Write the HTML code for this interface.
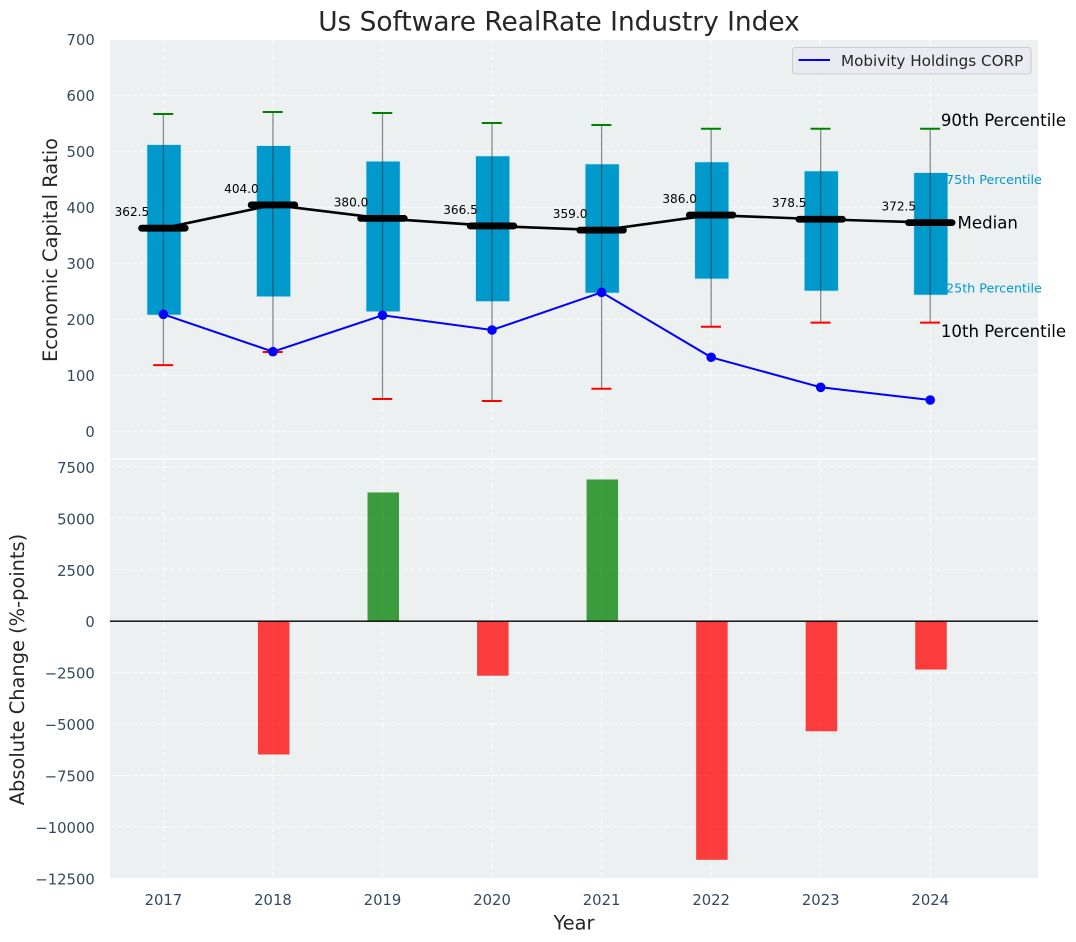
<!DOCTYPE html>
<html lang="en">
<head>
<meta charset="utf-8">
<title>Us Software RealRate Industry Index</title>
<style>
html,body{margin:0;padding:0;background:#fff;}
svg{display:block;font-family:"DejaVu Sans","Liberation Sans",sans-serif;}
</style>
</head>
<body>
<svg id="chart" xmlns="http://www.w3.org/2000/svg" width="1076" height="942" viewBox="0 0 1076 942">
  <rect x="0" y="0" width="1076" height="942" fill="#ffffff"/>
  <text x="559" y="30.5" text-anchor="middle" font-size="26.4" fill="#262626">Us Software RealRate Industry Index</text>
  <rect x="110" y="40" width="928" height="418.3" fill="#ecf0f1"/>
  <rect x="110" y="459.7" width="928" height="418.3" fill="#ecf0f1"/>
  <g id="grid"></g>
  <g id="boxes"></g>
  <g id="medians"></g>
  <g id="company"></g>
  <g id="annotations"></g>
  <g id="bars"></g>
  <line x1="110" x2="1038" y1="621.2" y2="621.2" stroke="#000000" stroke-width="1.3"/>
  <g id="ticks"></g>
  <text x="574" y="929.5" text-anchor="middle" font-size="19.4" fill="#262626">Year</text>
  <text transform="translate(57,250) rotate(-90)" text-anchor="middle" font-size="19.4" fill="#262626">Economic Capital Ratio</text>
  <text transform="translate(24,669.5) rotate(-90)" text-anchor="middle" font-size="19.4" fill="#262626">Absolute Change (%-points)</text>
  <g>
    <rect x="792.5" y="47.5" width="238.5" height="26.5" rx="3" fill="#eaeaf2" stroke="#cccccc" stroke-width="1"/>
    <line x1="798.5" x2="830" y1="60" y2="60" stroke="#0000ff" stroke-width="2"/>
    <text x="841" y="66" font-size="15.2" fill="#262626">Mobivity Holdings CORP</text>
  </g>
</svg>
<script>
const years = [2017, 2018, 2019, 2020, 2021, 2022, 2023, 2024];
const p90 = [566.4, 570, 568.2, 550.4, 546.8, 540.2, 540.2, 540.2];
const p75 = [511.6, 509.8, 482, 491.4, 477.1, 480.7, 464.6, 461.6];
const medianValues = [362.5, 404.0, 380.0, 366.5, 359.0, 386.0, 378.5, 372.5];
const p25 = [207.5, 240.2, 213.4, 231.6, 246.8, 272, 250.4, 243.2];
const p10 = [118, 141.4, 57.5, 53.9, 75.9, 186.6, 193.8, 193.8];
const companyValues = [208.7, 142, 207, 180.7, 248, 132, 78.4, 55.7];
const changeValues = [0, -6480, 6260, -2650, 6890, -11600, -5350, -2350];
const topTicks = [0, 100, 200, 300, 400, 500, 600, 700];
const bottomTicks = [7500, 5000, 2500, 0, -2500, -5000, -7500, -10000, -12500];

const SVGNS = 'http://www.w3.org/2000/svg';
function xScale(year) { return 163.4 + (year - 2017) * 109.55; }
function yTop(v) { return 431.2 - v * 0.56; }
function yBottom(v) { return 621.2 - v * 0.02057; }
function make(tag, parent, props, text) {
  const el = document.createElementNS(SVGNS, tag);
  for (const k in props) el.setAttribute(k, props[k]);
  if (text !== undefined) el.textContent = text;
  document.getElementById(parent).appendChild(el);
  return el;
}
function gridProps(x1, x2, y1, y2) {
  return { x1: x1, x2: x2, y1: y1, y2: y2, stroke: '#ffffff', 'stroke-width': 1, 'stroke-dasharray': '5 2.5', 'stroke-opacity': 0.85 };
}

years.forEach(function (yr) {
  const x = xScale(yr);
  const a = make('line', 'grid', gridProps(x, x, 40, 458.3));
  
  
  const b = make('line', 'grid', gridProps(x, x, 459.7, 878));
  
  
  const t = make('text', 'ticks', { x: x, y: 905, 'text-anchor': 'middle', 'font-size': 14.8, fill: '#34495e' }, String(yr));
  
  
});
topTicks.forEach(function (v) {
  const y = yTop(v);
  if (v < 700) {
    const g = make('line', 'grid', gridProps(110, 1038, y, y));
    
    
  }
  const t = make('text', 'ticks', { x: 94.8, y: y + 6, 'text-anchor': 'end', 'font-size': 14.8, fill: '#34495e' }, String(v));
  
  
});
bottomTicks.forEach(function (v) {
  const y = yBottom(v);
  if (v > -12500) {
    const g = make('line', 'grid', gridProps(110, 1038, y, y));
    
    
  }
  const label = v < 0 ? '\u2212' + Math.abs(v) : String(v);
  const t = make('text', 'ticks', { x: 94.8, y: y + 6, 'text-anchor': 'end', 'font-size': 14.8, fill: '#34495e' }, label);
  
  
});

years.forEach(function (yr, i) {
  const x = xScale(yr);
  const box = make('rect', 'boxes', { x: x - 16.4, y: yTop(p75[i]), width: 34, height: yTop(p25[i]) - yTop(p75[i]), fill: '#0099cc', stroke: '#bfe6f2', 'stroke-width': 0.6 });
  
  
  const w = make('line', 'boxes', { x1: x, x2: x, y1: yTop(p90[i]), y2: yTop(p10[i]), stroke: '#333333', 'stroke-opacity': 0.55, 'stroke-width': 1.3 });
  
  
  const hi = make('line', 'boxes', { x1: x - 10.2, x2: x + 9.8, y1: yTop(p90[i]), y2: yTop(p90[i]), stroke: '#008000', 'stroke-width': 2 });
  
  
  const lo = make('line', 'boxes', { x1: x - 10.2, x2: x + 9.8, y1: yTop(p10[i]), y2: yTop(p10[i]), stroke: '#ff0000', 'stroke-width': 2 });
  
  
});

const medianPath = make('polyline', 'medians', {
  points: years.map(function (yr, i) { return xScale(yr) + ',' + yTop(medianValues[i]); }).join(' '),
  fill: 'none', stroke: '#000000', 'stroke-width': 2.6
});


years.forEach(function (yr, i) {
  const x = xScale(yr), y = yTop(medianValues[i]);
  const m = make('line', 'medians', { x1: x - 21.8, x2: x + 21.8, y1: y, y2: y, stroke: '#000000', 'stroke-width': 6.8, 'stroke-linecap': 'round' });
  
  
  const t = make('text', 'medians', { x: x - 31.5, y: y - 12, 'text-anchor': 'middle', 'font-size': 12.1, fill: '#000000' }, medianValues[i].toFixed(1));
  
  
});

const companyPath = make('polyline', 'company', {
  points: years.map(function (yr, i) { return xScale(yr) + ',' + yTop(companyValues[i]); }).join(' '),
  fill: 'none', stroke: '#0000ff', 'stroke-width': 2
});


years.forEach(function (yr, i) {
  const c = make('circle', 'company', { cx: xScale(yr), cy: yTop(companyValues[i]), r: 4.8, fill: '#0000ff' });
  
  
});

const last = years.length - 1;
const lastX = xScale(years[last]);
const a90 = make('text', 'annotations', { x: lastX + 10.6, y: yTop(p90[last]) - 2.8, 'font-size': 16.6, fill: '#000000' }, '90th Percentile');


const a75 = make('text', 'annotations', { x: lastX + 15.8, y: yTop(p75[last]) + 11.5, 'font-size': 12.7, fill: '#0099cc' }, '75th Percentile');


const aMed = make('text', 'annotations', { x: lastX + 27.3, y: yTop(medianValues[last]) + 5.8, 'font-size': 16.6, fill: '#000000' }, 'Median');


const a25 = make('text', 'annotations', { x: lastX + 15.8, y: yTop(p25[last]) - 2.5, 'font-size': 12.7, fill: '#0099cc' }, '25th Percentile');


const a10 = make('text', 'annotations', { x: lastX + 10.6, y: yTop(p10[last]) + 14.5, 'font-size': 16.6, fill: '#000000' }, '10th Percentile');



years.forEach(function (yr, i) {
  const v = changeValues[i];
  if (v === 0) return;
  const top = v > 0 ? yBottom(v) : yBottom(0);
  const h = Math.abs(yBottom(v) - yBottom(0));
  const b = make('rect', 'bars', { x: xScale(yr) - 15, y: top, width: 31.5, height: h, fill: v > 0 ? '#008000' : '#ff0000', 'fill-opacity': 0.75 });
  
  
});
</script>
</body>
</html>
